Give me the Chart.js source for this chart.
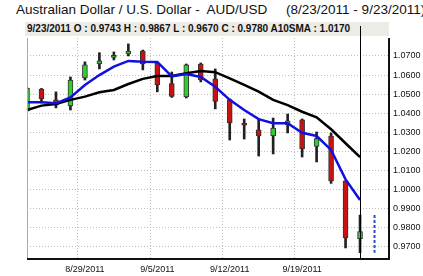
<!DOCTYPE html>
<html>
<head>
<meta charset="utf-8">
<script src="https://cdn.jsdelivr.net/npm/chart.js@4.4.1/dist/chart.umd.min.js"></script>
<style>
  html, body { margin: 0; padding: 0; background: #fff; }
  #wrap { position: relative; width: 423px; height: 276px; overflow: hidden; font-family: "Liberation Sans", Arial, sans-serif; }
  #title { position: absolute; left: 16px; top: 2px; font-size: 13.5px; white-space: pre; color: #111; }
  #info { position: absolute; left: 25px; top: 22px; width: 364px; height: 14px; background: #ecebe5;
          font-size: 10px; font-weight: bold; line-height: 14px; white-space: pre; color: #111; box-sizing: border-box; padding-left: 2px; }
  canvas { position: absolute; left: 0; top: 0; }
</style>
</head>
<body>
<div id="wrap">
  <div id="title">Australian Dollar / U.S. Dollar -  AUD/USD     (8/23/2011 - 9/23/2011)</div>
  <div id="info">9/23/2011 O : 0.9743 H : 0.9867 L : 0.9670 C : 0.9780 A10SMA : 1.0170</div>
  <canvas id="chart" width="423" height="276"></canvas>
</div>
<script>
// daily AUD/USD candles
var dates = ['8/23/2011', '8/24/2011', '8/25/2011', '8/26/2011', '8/29/2011', '8/30/2011', '8/31/2011',
             '9/1/2011', '9/2/2011', '9/5/2011', '9/6/2011', '9/7/2011', '9/8/2011', '9/9/2011',
             '9/12/2011', '9/13/2011', '9/14/2011', '9/15/2011', '9/16/2011', '9/19/2011', '9/20/2011',
             '9/21/2011', '9/22/2011', '9/23/2011', 'next', 'end'];
var opens  = [1.0415, 1.0527, 1.0470, 1.0438, 1.0585, 1.0658, 1.0692, 1.0710, 1.0726, 1.0663, 1.0556, 1.0485,
              1.0658, 1.0580, 1.0472, 1.0343, 1.0313, 1.0281, 1.0339, 1.0365, 1.0226, 1.0281, 1.0046, 0.9743];
var highs  = [1.0535, 1.0530, 1.0512, 1.0590, 1.0669, 1.0717, 1.0721, 1.0763, 1.0731, 1.0663, 1.0616, 1.0658,
              1.0663, 1.0632, 1.0475, 1.0370, 1.0370, 1.0375, 1.0396, 1.0370, 1.0302, 1.0297, 1.0046, 0.9867];
var lows   = [1.0410, 1.0454, 1.0428, 1.0417, 1.0574, 1.0632, 1.0679, 1.0700, 1.0627, 1.0512, 1.0483, 1.0480,
              1.0564, 1.0423, 1.0260, 1.0265, 1.0176, 1.0187, 1.0297, 1.0171, 1.0145, 1.0033, 0.9695, 0.9670];
var closes = [1.0530, 1.0475, 1.0443, 1.0574, 1.0653, 1.0674, 1.0703, 1.0726, 1.0658, 1.0548, 1.0488, 1.0653,
              1.0574, 1.0462, 1.0349, 1.0337, 1.0281, 1.0323, 1.0360, 1.0213, 1.0268, 1.0046, 0.9747, 0.9780];
var sma5   = [1.0458, 1.0458, 1.0452, 1.0483, 1.0548, 1.0600, 1.0644, 1.0674, 1.0670, 1.0669, 1.0593, 1.0606,
              1.0590, 1.0539, 1.0470, 1.0417, 1.0369, 1.0348, 1.0348, 1.0298, 1.0281, 1.0208, 1.0054, 0.9946];
var sma10  = [1.0417, 1.0440, 1.0449, 1.0470, 1.0487, 1.0510, 1.0522, 1.0553, 1.0580, 1.0595, 1.0595, 1.0609,
              1.0621, 1.0615, 1.0583, 1.0548, 1.0513, 1.0470, 1.0443, 1.0408, 1.0379, 1.0316, 1.0243, 1.0170];
// range marker drawn one slot past the last candle
var previewRange = [0.9867, 0.9670];
var previewIndex = 24;
var yTicks = [0.97, 0.98, 0.99, 1.00, 1.01, 1.02, 1.03, 1.04, 1.05, 1.06, 1.07];
var xTickDates = ['8/29/2011', '9/5/2011', '9/12/2011', '9/19/2011'];
var cursorIndex = 23;

var wicks = highs.map(function(h, i) { return [lows[i], h]; });
var bodies = opens.map(function(o, i) { return [o, closes[i]]; });
var isUp = function(i) { return closes[i] >= opens[i]; };

var framePlugin = {
  id: 'frame',
  afterDatasetsDraw: function(chart) {
    var ctx = chart.ctx, a = chart.chartArea;
    var x = chart.scales.x.getPixelForValue(cursorIndex);
    ctx.save();
    // cursor line
    ctx.strokeStyle = '#000';
    ctx.lineWidth = 1;
    ctx.beginPath();
    ctx.moveTo(Math.round(x) + 0.5, 26);
    ctx.lineTo(Math.round(x) + 0.5, a.bottom);
    ctx.stroke();
    // left axis
    ctx.strokeStyle = '#aaa';
    ctx.beginPath();
    ctx.moveTo(a.left + 0.5, a.top);
    ctx.lineTo(a.left + 0.5, a.bottom);
    ctx.stroke();
    // bottom and right axis
    ctx.strokeStyle = '#111';
    ctx.lineWidth = 2;
    ctx.beginPath();
    ctx.moveTo(a.left, a.bottom);
    ctx.lineTo(a.right, a.bottom);
    ctx.moveTo(a.right, a.top);
    ctx.lineTo(a.right, a.bottom + 1);
    ctx.stroke();
    ctx.restore();
  }
};

new Chart(document.getElementById('chart'), {
  type: 'bar',
  data: {
    labels: dates,
    datasets: [
      { type: 'line', data: sma5, borderColor: '#1010e0', borderWidth: 2.5, pointRadius: 0, tension: 0 },
      { type: 'line', data: sma10, borderColor: '#000', borderWidth: 2.5, pointRadius: 0, tension: 0 },
      { type: 'line',
        data: [{ x: dates[previewIndex], y: previewRange[0] }, { x: dates[previewIndex], y: previewRange[1] }],
        borderColor: '#2a4fd0', borderWidth: 2, borderDash: [3, 2], pointRadius: 0 },
      { data: bodies, grouped: false, barThickness: 5, minBarLength: 2, borderWidth: 1, borderSkipped: false,
        borderColor: '#333',
        backgroundColor: function(c) { return isUp(c.dataIndex) ? '#33cc33' : '#cc1111'; } },
      { data: wicks, grouped: false, barThickness: 2, borderWidth: 0, backgroundColor: '#222' }
    ]
  },
  options: {
    responsive: false,
    animation: false,
    layout: { padding: { left: 27, top: 38, right: 0, bottom: 0 } },
    plugins: { legend: { display: false }, tooltip: { enabled: false } },
    scales: {
      x: {
        type: 'category',
        offset: false,
        border: { display: false, dash: [1, 2] },
        grid: {
          drawTicks: false,
          color: function(c) { return xTickDates.indexOf(dates[c.index]) >= 0 ? '#bdbdbd' : 'rgba(0,0,0,0)'; }
        },
        ticks: {
          autoSkip: false, maxRotation: 0, padding: 5, color: '#111',
          font: { family: 'Liberation Sans', size: 9 },
          callback: function(v, i) { return xTickDates.indexOf(dates[i]) >= 0 ? dates[i] : ''; }
        },
        afterFit: function(s) { s.height = 17; }
      },
      y: {
        position: 'right',
        min: 0.9637,
        max: 1.0794,
        border: { display: false, dash: [1, 2] },
        grid: { drawTicks: false, color: '#bdbdbd' },
        afterBuildTicks: function(s) { s.ticks = yTicks.map(function(v) { return { value: v }; }); },
        ticks: {
          padding: 4, color: '#111',
          font: { family: 'Liberation Sans', size: 9 },
          callback: function(v) { return Number(v).toFixed(4); }
        },
        afterFit: function(s) { s.width = 34; }
      }
    }
  },
  plugins: [framePlugin]
});
</script>
</body>
</html>
